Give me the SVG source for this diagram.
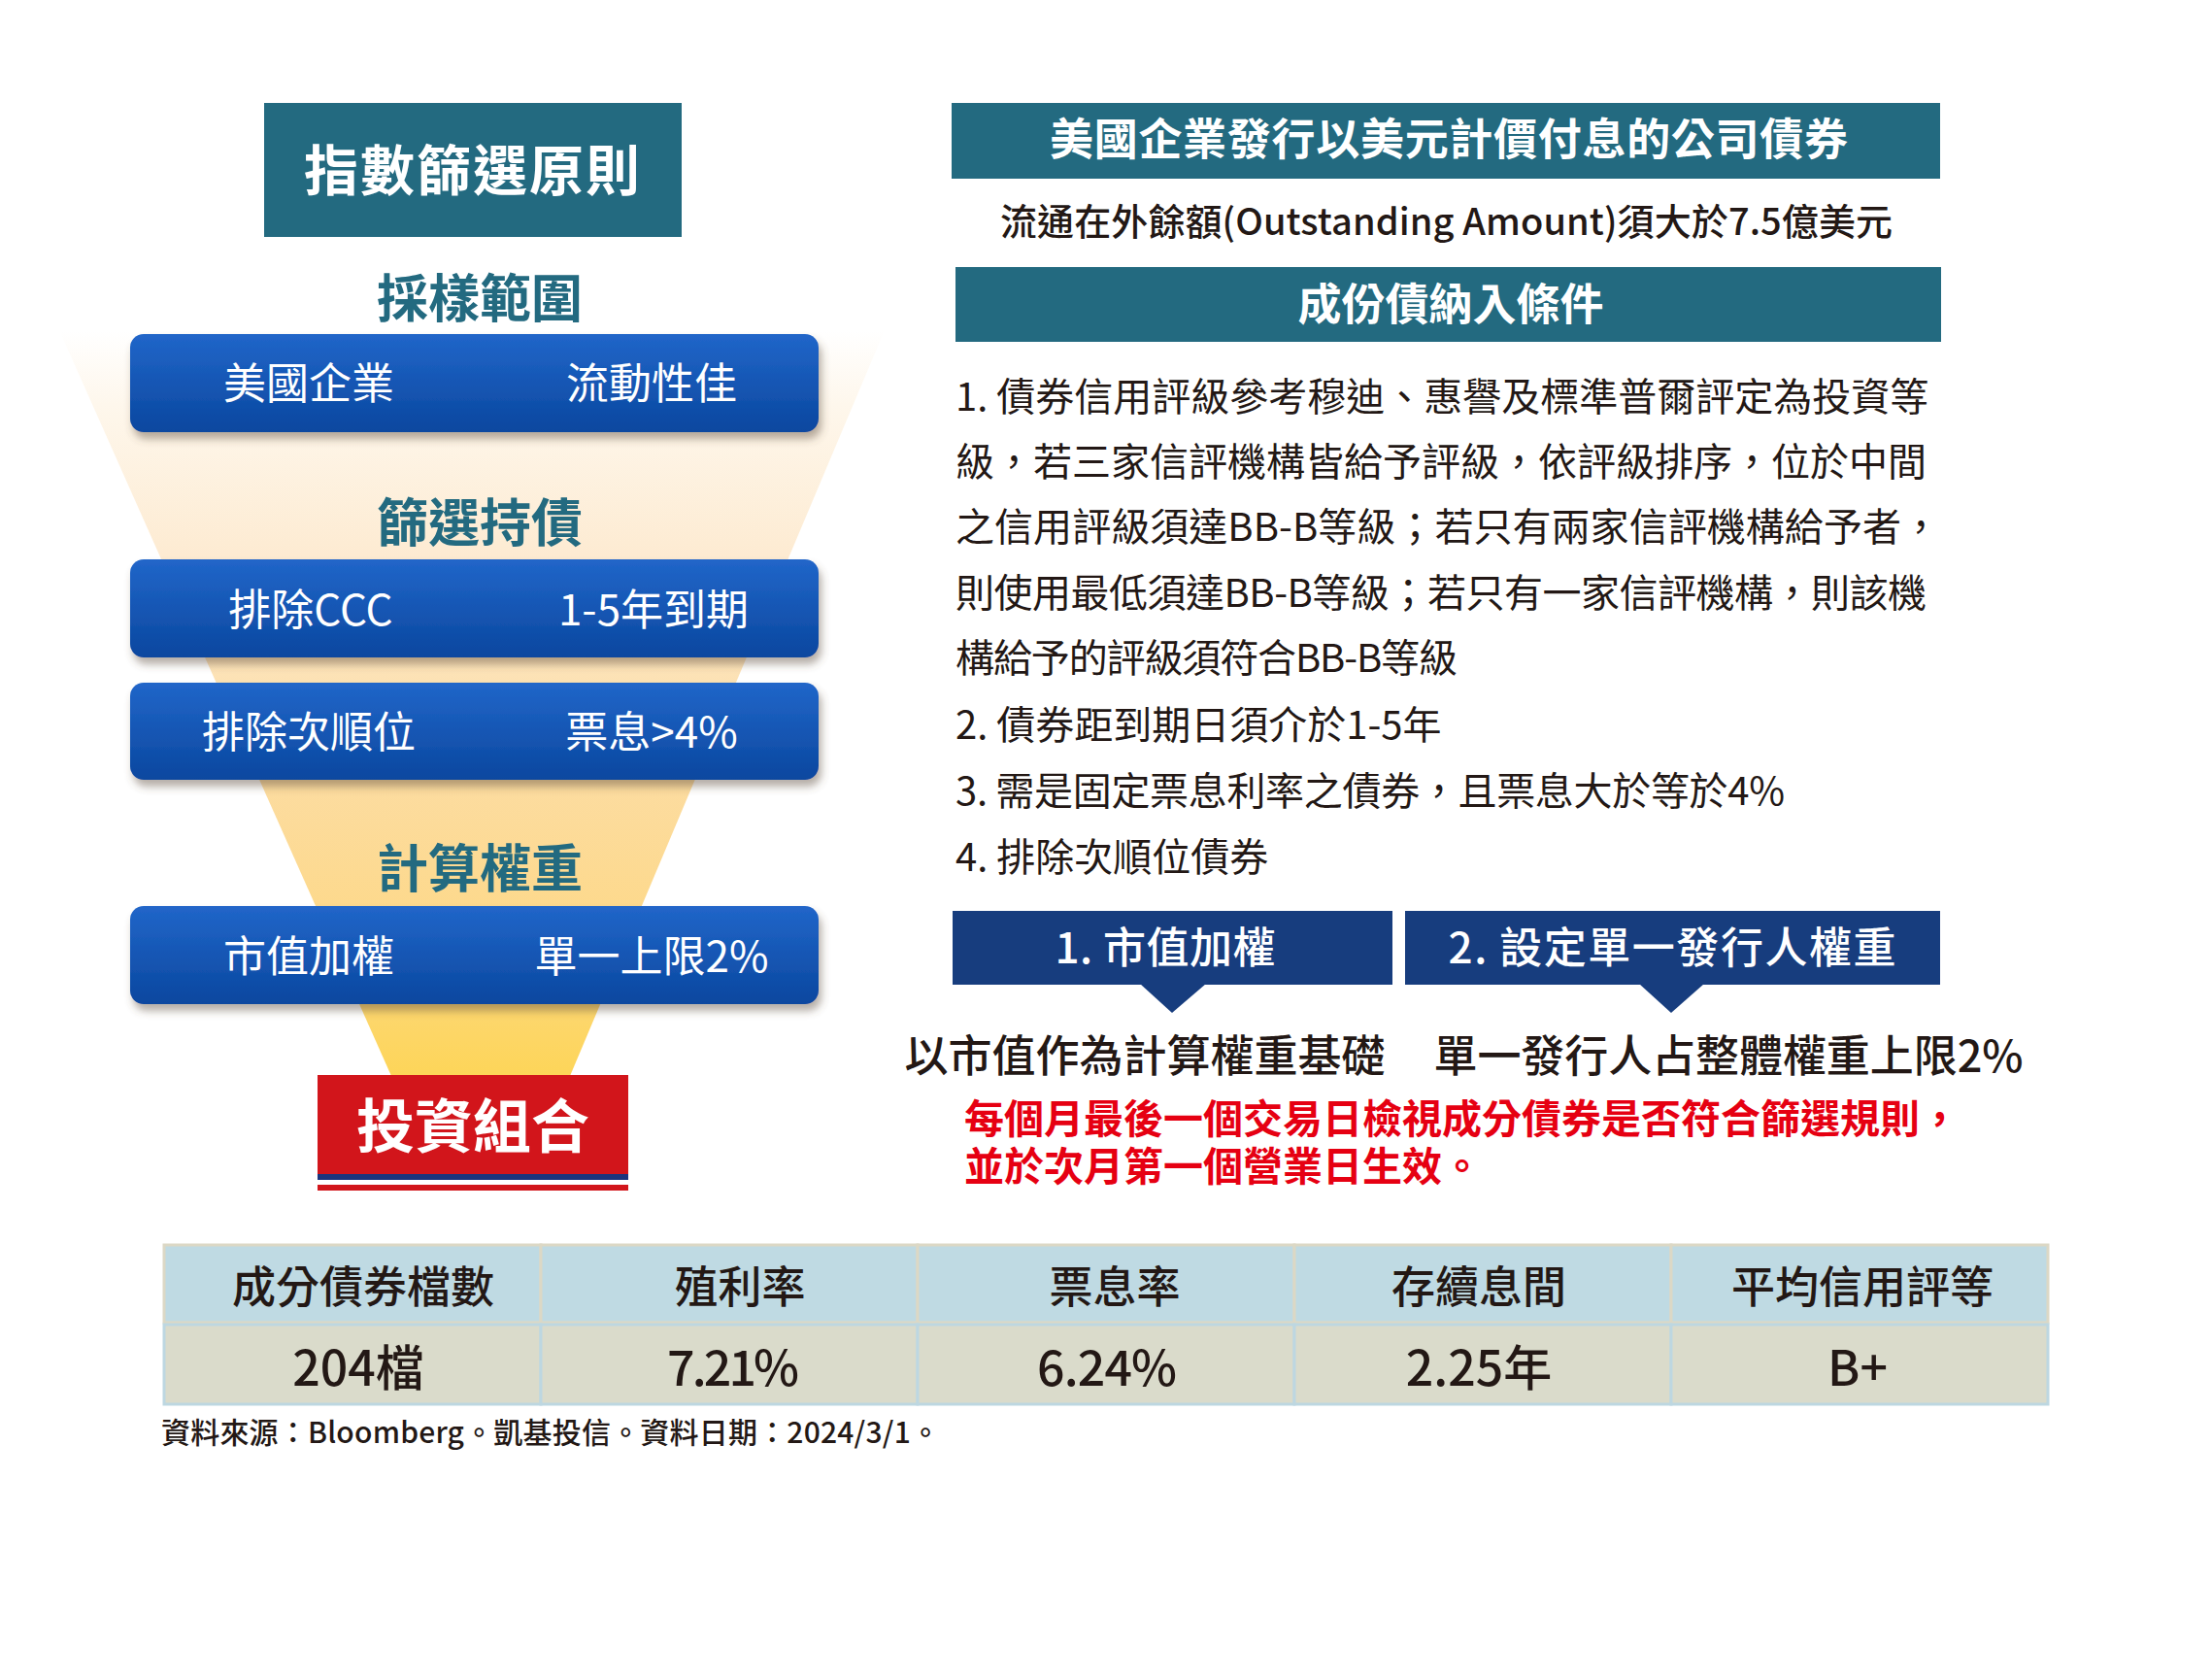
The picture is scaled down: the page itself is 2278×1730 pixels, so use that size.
<svg xmlns="http://www.w3.org/2000/svg" width="2278" height="1730" viewBox="0 0 2278 1730">
  <defs>
    <linearGradient id="funnelGrad" gradientUnits="userSpaceOnUse" x1="0" y1="340" x2="0" y2="1110">
      <stop offset="0" stop-color="#ffffff"/>
      <stop offset="0.1" stop-color="#fef7ec"/>
      <stop offset="0.3" stop-color="#fdebd2"/>
      <stop offset="0.55" stop-color="#fcdda6"/>
      <stop offset="0.78" stop-color="#fdd98c"/>
      <stop offset="1" stop-color="#fdd558"/>
    </linearGradient>
    <linearGradient id="blueGrad" x1="0" y1="0" x2="0" y2="1">
      <stop offset="0" stop-color="#2166c9"/>
      <stop offset="1" stop-color="#0a479f"/>
    </linearGradient>
    <filter id="shadow" x="-5%" y="-20%" width="112%" height="150%">
      <feDropShadow dx="3" dy="7" stdDeviation="4" flood-color="#5b4a38" flood-opacity="0.45"/>
    </filter>
  </defs>
  <style>
    text { font-family: 'Noto Sans CJK TC', 'Noto Sans CJK JP', 'Noto Sans CJK SC', sans-serif; }
    .c { text-anchor: middle; dominant-baseline: central; }
    .l { text-anchor: start; dominant-baseline: central; }
    .teal { fill: #236a80; }
    .pill { fill: url(#blueGrad); filter: url(#shadow); }
    .pilltxt { font-size: 44px; fill: #ffffff; font-weight: 400; }
    .sec { font-size: 53px; font-weight: 700; fill: #236a80; }
    .hdr { font-size: 45px; font-weight: 700; fill: #ffffff; }
    .body { font-size: 40px; fill: #231815; font-weight: 400; }
    .navy { fill: #173d7e; }
    .navytxt { font-size: 44px; fill: #ffffff; font-weight: 500; }
    .sub { font-size: 45px; fill: #231815; font-weight: 500; }
    .red { font-size: 41px; fill: #e60012; font-weight: 700; }
    .th { fill: #bfdae3; stroke: #dcd8c5; stroke-width: 3; }
    .td { fill: #dadbcb; stroke: #bdd7e1; stroke-width: 3; }
    .thtxt { font-size: 45px; fill: #231815; font-weight: 500; }
    .tdtxt { font-size: 50px; fill: #231815; font-weight: 500; }
  </style>

  <rect width="2278" height="1730" fill="#ffffff"/>

  <!-- funnel background -->
  <polygon id="funnel" points="61,340 911,340 587,1108 403,1108" fill="url(#funnelGrad)"/>

  <g id="title">
    <rect x="272" y="106" width="430" height="138" class="teal"/>
    <text x="487" y="171" class="c" font-size="56" font-weight="700" fill="#ffffff" letter-spacing="2">指數篩選原則</text>
  </g>

  <g id="section-sampling">
    <text x="494" y="304" class="c sec">採樣範圍</text>
  </g>
  <g id="pill-1">
    <rect x="134" y="344" width="709" height="101" rx="14" class="pill"/>
    <text x="318" y="392" class="c pilltxt">美國企業</text>
    <text x="671" y="392" class="c pilltxt">流動性佳</text>
  </g>

  <g id="section-screening">
    <text x="494" y="535" class="c sec">篩選持債</text>
  </g>
  <g id="pill-2">
    <rect x="134" y="576" width="709" height="101" rx="14" class="pill"/>
    <text x="320" y="625" class="c pilltxt">排除CCC</text>
    <text x="673" y="625" class="c pilltxt">1-5年到期</text>
  </g>
  <g id="pill-3">
    <rect x="134" y="703" width="709" height="100" rx="14" class="pill"/>
    <text x="318" y="751" class="c pilltxt">排除次順位</text>
    <text x="671" y="751" class="c pilltxt">票息&gt;4%</text>
  </g>

  <g id="section-weight">
    <text x="494" y="891" class="c sec">計算權重</text>
  </g>
  <g id="pill-4">
    <rect x="134" y="933" width="709" height="101" rx="14" class="pill"/>
    <text x="318" y="982" class="c pilltxt">市值加權</text>
    <text x="671" y="982" class="c pilltxt">單一上限2%</text>
  </g>

  <g id="portfolio">
    <rect x="327" y="1107" width="320" height="102" fill="#d2151b"/>
    <rect x="327" y="1209" width="320" height="6" fill="#1b347d"/>
    <rect x="327" y="1220" width="320" height="6" fill="#d2151b"/>
    <text x="487" y="1155" class="c" font-size="60" font-weight="700" fill="#ffffff">投資組合</text>
  </g>

  <!-- right column -->
  <g id="header-universe">
    <rect x="980" y="106" width="1018" height="78" class="teal"/>
    <text x="1492" y="140" class="c hdr" textLength="822">美國企業發行以美元計價付息的公司債券</text>
  </g>
  <g id="outstanding">
    <text x="1030" y="225" class="l" font-size="38" font-weight="500" fill="#231815" textLength="919">流通在外餘額(Outstanding Amount)須大於7.5億美元</text>
  </g>
  <g id="header-criteria">
    <rect x="984" y="275" width="1015" height="77" class="teal"/>
    <text x="1494" y="310" class="c hdr">成份債納入條件</text>
  </g>
  <g id="criteria-text">
    <text x="984" y="406" class="l body">1. 債券信用評級參考穆迪、惠譽及標準普爾評定為投資等</text>
    <text x="984" y="473" class="l body">級，若三家信評機構皆給予評級，依評級排序，位於中間</text>
    <text x="984" y="540" class="l body" textLength="1014">之信用評級須達BB-B等級；若只有兩家信評機構給予者，</text>
    <text x="984" y="608" class="l body" textLength="1000">則使用最低須達BB-B等級；若只有一家信評機構，則該機</text>
    <text x="984" y="675" class="l body" textLength="517">構給予的評級須符合BB-B等級</text>
    <text x="984" y="744" class="l body">2. 債券距到期日須介於1-5年</text>
    <text x="984" y="812" class="l body" textLength="854">3. 需是固定票息利率之債券，且票息大於等於4%</text>
    <text x="984" y="880" class="l body">4. 排除次順位債券</text>
  </g>

  <g id="weight-box-1">
    <rect x="981" y="938" width="453" height="76" class="navy"/>
    <text x="1200" y="973" class="c navytxt" textLength="227">1. 市值加權</text>
  </g>
  <g id="weight-box-2">
    <rect x="1447" y="938" width="551" height="76" class="navy"/>
    <text x="1722" y="973" class="c navytxt" textLength="461">2. 設定單一發行人權重</text>
  </g>

  <g id="connectors">
    <polygon points="1174,1013 1242,1013 1207,1043" class="navy"/>
    <polygon points="1688,1013 1755,1013 1721,1043" class="navy"/>
  </g>

  <g id="weight-desc-1">
    <text x="1179" y="1084" class="c sub">以市值作為計算權重基礎</text>
  </g>
  <g id="weight-desc-2">
    <text x="1780" y="1084" class="c sub" textLength="607">單一發行人占整體權重上限2%</text>
  </g>

  <g id="rebalance-note">
    <text x="993" y="1149" class="l red">每個月最後一個交易日檢視成分債券是否符合篩選規則，</text>
    <text x="993" y="1198" class="l red">並於次月第一個營業日生效。</text>
  </g>

  <!-- table -->
  <g id="table">
    <rect x="169" y="1282" width="388" height="80" class="th"/>
    <rect x="557" y="1282" width="388" height="80" class="th"/>
    <rect x="945" y="1282" width="388" height="80" class="th"/>
    <rect x="1333" y="1282" width="388" height="80" class="th"/>
    <rect x="1721" y="1282" width="388" height="80" class="th"/>
    <rect x="169" y="1364" width="388" height="82" class="td"/>
    <rect x="557" y="1364" width="388" height="82" class="td"/>
    <rect x="945" y="1364" width="388" height="82" class="td"/>
    <rect x="1333" y="1364" width="388" height="82" class="td"/>
    <rect x="1721" y="1364" width="388" height="82" class="td"/>
    <text x="374" y="1322" class="c thtxt">成分債券檔數</text>
    <text x="762" y="1322" class="c thtxt">殖利率</text>
    <text x="1148" y="1322" class="c thtxt">票息率</text>
    <text x="1523" y="1322" class="c thtxt">存續息間</text>
    <text x="1918" y="1322" class="c thtxt">平均信用評等</text>
    <text x="369" y="1405" class="c tdtxt">204檔</text>
    <text x="755" y="1405" class="c tdtxt" textLength="136">7.21%</text>
    <text x="1140" y="1405" class="c tdtxt" textLength="144">6.24%</text>
    <text x="1523" y="1405" class="c tdtxt">2.25年</text>
    <text x="1913" y="1405" class="c tdtxt">B+</text>
  </g>

  <g id="footnote">
    <text x="166" y="1473" class="l" font-size="30" font-weight="500" fill="#231815" textLength="802">資料來源：Bloomberg。凱基投信。資料日期：2024/3/1。</text>
  </g>
</svg>
